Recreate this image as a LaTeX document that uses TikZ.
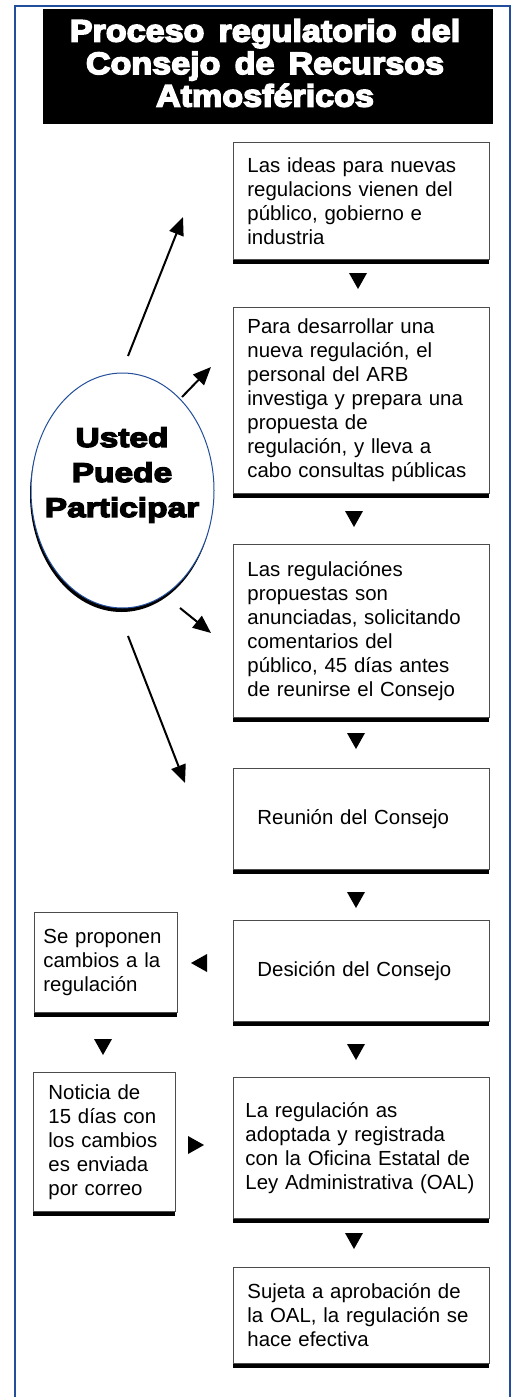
\documentclass[tikz,border=0pt]{standalone}
\usepackage{fontspec}
\usetikzlibrary{arrows.meta,shapes.geometric,shadows}
\setmainfont{Liberation Sans}
\newfontfamily\bodyfont{Liberation Sans}[WordSpace=1.4]
\newfontfamily\headfont{Liberation Sans}[UprightFont={* Bold}, FakeBold=5, FakeStretch=1.1, WordSpace=1.5]
\newfontfamily\ellfont{Liberation Sans}[UprightFont={* Bold}, FakeBold=5, FakeStretch=1.24]
\definecolor{frameblue}{RGB}{34,78,155}
\begin{document}
\begin{tikzpicture}[x=1pt,y=-1pt,
  box/.style={draw=black!70, line width=0.9pt, fill=white, anchor=north west,
    inner ysep=0pt, align=left, font=\bodyfont\fontsize{20.4}{24}\selectfont,
    general shadow={fill=black, shadow yshift=-5pt}},
  arr/.style={line width=2pt, -{Triangle[length=18pt,width=15pt]}},
  tridown/.pic={\fill (-9,0) -- (9,0) -- (0,16) -- cycle;},
  trileft/.pic={\fill (0,0) -- (16,-9) -- (16,9) -- cycle;},
  triright/.pic={\fill (0,0) -- (-16,-9) -- (-16,9) -- cycle;}]
\useasboundingbox (0,0) rectangle (512,1397);
\fill[white] (0,0) rectangle (512,1397);
% frame
\draw[frameblue, line width=2pt] (15,1397) -- (15,6) -- (510,6) -- (510,1397);
% title
\node[fill=black, minimum width=450pt, minimum height=115pt, inner sep=0pt] (tbox) at (268,66.5) {};
\node[text=white, align=center, font=\headfont\fontsize{31}{32.5}\selectfont] (ttl) at (265,63)
  {Proceso regulatorio del\\Consejo de Recursos\\Atmosféricos};
% ellipse
\node[ellipse, draw=frameblue, line width=1pt, fill=white, minimum width=183pt, minimum height=235pt,
  inner sep=0pt, general shadow={fill=black, shadow xshift=-1pt, shadow yshift=-4pt}] (ell) at (122.5,490.5) {};
\node[align=center, font=\ellfont\fontsize{27}{35}\selectfont] (etx) at (122,475)
  {Usted\\Puede\\Participar};
% boxes
\node[box, inner xsep=14pt, text width=228pt, minimum height=117pt] (b1) at (233,142)
  {Las ideas para nuevas\\regulacions vienen del\\público, gobierno e\\industria};
\node[box, inner xsep=14pt, text width=228pt, minimum height=186pt] (b2) at (233,307)
  {Para desarrollar una\\nueva regulación, el\\personal del ARB\\investiga y prepara una\\propuesta de\\regulación, y lleva a\\cabo consultas públicas};
\node[box, inner xsep=14pt, text width=228pt, minimum height=173pt] (b3) at (233,544)
  {Las regulaciónes\\propuestas son\\anunciadas, solicitando\\comentarios del\\público, 45 días antes\\de reunirse el Consejo};
\node[box, inner xsep=24pt, text width=208pt, minimum height=101pt] (b4) at (233,768)
  {Reunión del Consejo};
\node[box, inner xsep=24pt, text width=208pt, minimum height=101pt] (b5) at (233,920)
  {Desición del Consejo};
\node[box, inner xsep=12pt, text width=232pt, minimum height=141pt] (b6) at (233,1077)
  {La regulación as\\adoptada y registrada\\con la Oficina Estatal de\\Ley Administrativa (OAL)};
\node[box, inner xsep=14pt, text width=228pt, minimum height=96pt] (b7) at (233,1267)
  {Sujeta a aprobación de\\la OAL, la regulación se\\hace efectiva};
\node[box, inner xsep=9pt, text width=125pt, minimum height=100pt] (l1) at (34,912)
  {Se proponen\\cambios a la\\regulación};
\node[box, inner xsep=15pt, text width=112pt, minimum height=139pt] (l2) at (33,1072)
  {Noticia de\\15 días con\\los cambios\\es enviada\\por correo};
% flow triangles
\pic at (358,273) {tridown};
\pic at (354,511) {tridown};
\pic at (356,733) {tridown};
\pic at (356,892) {tridown};
\pic at (356,1044) {tridown};
\pic at (354,1233) {tridown};
\pic at (103,1039) {tridown};
\pic at (191,963) {trileft};
\pic at (204,1145) {triright};
% participation arrows
\coordinate (a1s) at (128,356); \coordinate (a1e) at (183,217);
\coordinate (a2s) at (182,397); \coordinate (a2e) at (211,367);
\coordinate (a3s) at (180,608); \coordinate (a3e) at (211,633);
\coordinate (a4s) at (128,636); \coordinate (a4e) at (185,783);
\draw[arr] (a1s) -- (a1e);
\draw[arr] (a2s) -- (a2e);
\draw[arr] (a3s) -- (a3e);
\draw[arr] (a4s) -- (a4e);
\end{tikzpicture}
\end{document}
